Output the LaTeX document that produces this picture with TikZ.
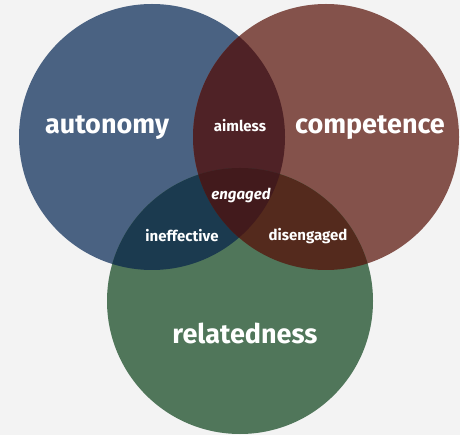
\documentclass[tikz,border=0pt]{standalone}
\usepackage{fontspec}
\setmainfont{Fira Sans}
\definecolor{bg}{HTML}{F3F3F3}
\definecolor{cA}{HTML}{4A6282}
\definecolor{cC}{HTML}{84524B}
\definecolor{cR}{HTML}{50765A}
\definecolor{cAC}{HTML}{4F2226}
\definecolor{cAR}{HTML}{1B3A4F}
\definecolor{cCR}{HTML}{542A1D}
\definecolor{cACR}{HTML}{421A1C}
\tikzset{
  biglabel/.style={text=white, font=\fontsize{27}{30}\selectfont\bfseries, inner sep=0pt},
  smalllabel/.style={text=white, font=\fontsize{15}{18}\selectfont\bfseries, inner sep=0pt},
}
\begin{document}
\begin{tikzpicture}[x=1pt,y=-1pt]
\fill[bg] (0,0) rectangle (460,435);
\useasboundingbox (0,0) rectangle (460,435);
\def\circA{(152,137) circle[radius=133pt]}
\def\circC{(326,137) circle[radius=133pt]}
\def\circR{(240,301) circle[radius=133pt]}
\fill[cA] \circA;
\fill[cC] \circC;
\fill[cR] \circR;
\begin{scope}
  \clip \circA; \fill[cAC] \circC;
\end{scope}
\begin{scope}
  \clip \circA; \fill[cAR] \circR;
\end{scope}
\begin{scope}
  \clip \circC; \fill[cCR] \circR;
\end{scope}
\begin{scope}
  \clip \circA; \clip \circC; \fill[cACR] \circR;
\end{scope}
\node[biglabel] (aut) at (107,128) {autonomy};
\node[biglabel] (com) at (370,128) {competence};
\node[biglabel] (rel) at (245,333) {relatedness};
\node[smalllabel] (aim) at (240,126) {aimless};
\node[smalllabel, font=\fontsize{15}{18}\selectfont\bfseries\itshape] (eng) at (241,195) {engaged};
\node[smalllabel] (ine) at (182,236) {ineffective};
\node[smalllabel] (dis) at (308,236) {disengaged};
\end{tikzpicture}
\end{document}
